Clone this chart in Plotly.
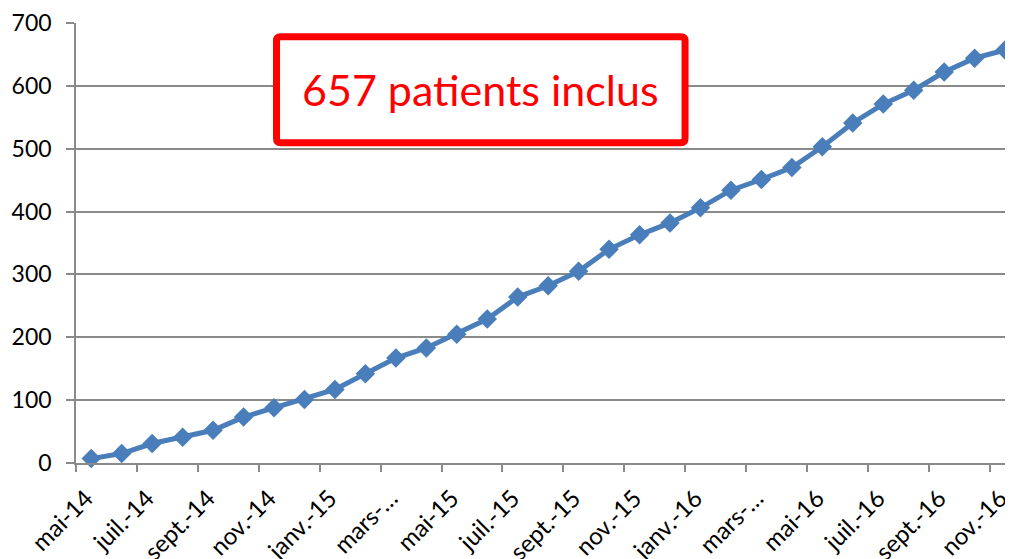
import plotly.graph_objects as go

months = ["mai-14", "juin-14", "juil.-14", "août-14", "sept.-14", "oct.-14", "nov.-14", "déc.-14",
          "janv.-15", "févr.-15", "mars-15", "avr.-15", "mai-15", "juin-15", "juil.-15", "août-15",
          "sept.-15", "oct.-15", "nov.-15", "déc.-15", "janv.-16", "févr.-16", "mars-16", "avr.-16",
          "mai-16", "juin-16", "juil.-16", "août-16", "sept.-16", "oct.-16", "nov.-16"]
patients = [7, 15, 31, 41, 52, 73, 88, 101, 117, 142, 167, 183, 205, 229, 264, 282,
            305, 340, 363, 382, 406, 434, 451, 470, 503, 541, 571, 593, 622, 644, 657]
tick_labels = ["mai-14", "juil.-14", "sept.-14", "nov.-14", "janv.-15", "mars-…", "mai-15", "juil.-15",
               "sept.-15", "nov.-15", "janv.-16", "mars-…", "mai-16", "juil.-16", "sept.-16", "nov.-16"]
y_ticks = [0, 100, 200, 300, 400, 500, 600, 700]
annotation_text = "657 patients inclus"

idx = list(range(len(months)))
label_pos = idx[::2]
boundary_pos = [i - 0.5 for i in idx[::2]]

FONT = "Lato, Carlito, Calibri, sans-serif"
GRID = "#8a8a8a"
BLUE = "#4a7ebb"

fig = go.Figure()
fig.add_trace(go.Scatter(
    x=idx, y=patients, mode="lines+markers",
    line=dict(color=BLUE, width=5),
    marker=dict(symbol="diamond", size=15, color=BLUE),
    text=months, hoverinfo="text+y", cliponaxis=False, showlegend=False,
))
# invisible trace to activate the tick-mark axis
fig.add_trace(go.Scatter(x=[idx[0]], y=[patients[0]], xaxis="x2", mode="markers",
                         marker=dict(opacity=0), showlegend=False, hoverinfo="skip"))

xr = [-0.5, 30.26]
fig.update_layout(
    width=1005, height=555,
    margin=dict(l=68, r=0, t=15, b=100, autoexpand=False),
    paper_bgcolor="white", plot_bgcolor="white",
    font=dict(family=FONT, size=23, color="#000000"),
    xaxis=dict(range=xr, tickmode="array", tickvals=label_pos, ticktext=tick_labels,
               tickangle=-45, ticks="", showgrid=False, zeroline=False, automargin=False,
               showline=True, linecolor=GRID, linewidth=1.5, ticklabelstandoff=10,
               ticklabelshift=-5, ticklabeloverflow="allow",
               tickfont=dict(family=FONT, size=24, color="#000000")),
    xaxis2=dict(range=xr, overlaying="x", anchor="y", side="bottom", automargin=False,
                tickmode="array", tickvals=boundary_pos, ticktext=[""] * len(boundary_pos),
                ticks="outside", ticklen=8, tickwidth=1.5, tickcolor=GRID,
                showgrid=False, zeroline=False, showline=False),
    yaxis=dict(range=[0, 700], tickmode="array", tickvals=y_ticks, automargin=False,
               ticks="outside", ticklen=8, tickwidth=1.5, tickcolor=GRID,
               showgrid=True, gridcolor=GRID, gridwidth=1.5, zeroline=False,
               showline=True, linecolor=GRID, linewidth=1.5,
               ticklabelstandoff=10,
               tickfont=dict(family=FONT, size=23, color="#000000")),
)

# rounded red frame (paper coordinates)
x0, x1, y0, y1 = 0.214, 0.650, 0.728, 0.969
rx, ry = 0.0045, 0.0095
path = (f"M {x0+rx},{y1} L {x1-rx},{y1} Q {x1},{y1} {x1},{y1-ry} "
        f"L {x1},{y0+ry} Q {x1},{y0} {x1-rx},{y0} "
        f"L {x0+rx},{y0} Q {x0},{y0} {x0},{y0+ry} "
        f"L {x0},{y1-ry} Q {x0},{y1} {x0+rx},{y1} Z")
fig.add_shape(type="path", xref="paper", yref="paper", path=path,
              line=dict(color="#ff0000", width=7), fillcolor="white", layer="above")
fig.add_annotation(xref="paper", yref="paper", x=(x0 + x1) / 2, y=(y0 + y1) / 2,
                   xanchor="center", yanchor="middle",
                   text=annotation_text, showarrow=False,
                   font=dict(family=FONT, size=43, color="#ff0000"))

fig.write_html("out.html")
